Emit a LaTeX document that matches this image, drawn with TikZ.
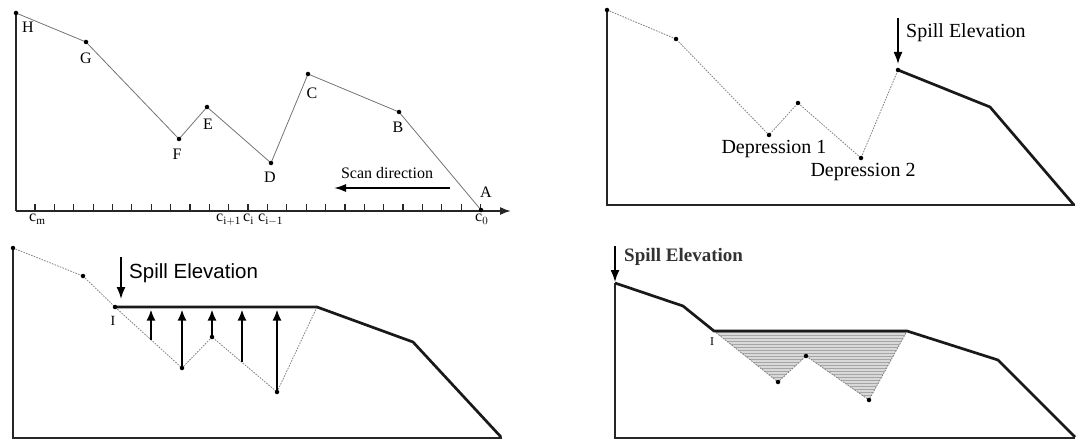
\documentclass[tikz,border=0pt]{standalone}
\usepackage{fontspec}
\setmainfont{Liberation Serif}
\newfontfamily\sansf{Liberation Sans}
\usetikzlibrary{arrows.meta,patterns,calc}
\begin{document}
\begin{tikzpicture}[x=1pt,y=-1pt,
  axis/.style={line width=1.7pt, black!85},
  thinprof/.style={line width=0.8pt, black!55},
  dotprof/.style={line width=0.8pt, black!50, dash pattern=on 1.6pt off 1.2pt},
  thickprof/.style={line width=2.7pt, black!90, line join=round},
  dotpt/.style={circle, fill=black, inner sep=0pt, minimum size=4.5pt},
  lbl/.style={inner sep=0pt, font=\fontsize{16}{16}\selectfont},
  biglbl/.style={inner sep=0pt, font=\fontsize{20}{20}\selectfont},
  spill/.style={line width=1.6pt, -{Latex[length=12pt,width=9pt]}},
  uparr/.style={line width=2pt, -{Latex[length=11pt,width=9pt]}},
]
\useasboundingbox (0,0) rectangle (1076,441);

% ---------------- Panel 1 ----------------
\coordinate (Y1) at (16,11);
\coordinate (O1) at (16,211);
\coordinate (X1) at (511,211);
\draw[axis] (Y1) -- (O1);
\draw[axis,-{Latex[length=11pt,width=8pt]}] (O1) -- (X1);
\foreach \i in {0,...,23}{
  \draw[line width=1.2pt, black!85] ({35+\i*19.37},211) -- ({35+\i*19.37},203.5);
}
\coordinate (H) at (16,13);
\coordinate (G) at (86,42);
\coordinate (F) at (179,139);
\coordinate (E) at (207,107);
\coordinate (D) at (271,163);
\coordinate (C) at (308,74);
\coordinate (B) at (399,112);
\coordinate (A) at (481,210);
\draw[thinprof] (H) -- (G) -- (F) -- (E) -- (D) -- (C) -- (B) -- (A);
\foreach \p in {H,G,F,E,D,C,B,A} \node[dotpt] at (\p) {};
\node[lbl] (lH) at (28,27) {H};
\node[lbl] (lG) at (86,58) {G};
\node[lbl] (lF) at (177,154) {F};
\node[lbl] (lE) at (208,124) {E};
\node[lbl] (lD) at (270,177) {D};
\node[lbl] (lC) at (312,93) {C};
\node[lbl] (lB) at (398,127) {B};
\node[lbl] (lA) at (486,192) {A};
\node[lbl] (scan) at (387,173) {Scan direction};
\coordinate (sa) at (450,188);
\coordinate (sb) at (334,188);
\draw[line width=1.7pt, -{Latex[length=12pt,width=8pt]}] (sa) -- (sb);
\node[lbl, anchor=north west] (cm) at (29,214) {c$_{\mathrm{m}}$};
\node[lbl, anchor=north west] (cip) at (216,214) {c$_{\mathrm{i+1}}$};
\node[lbl, anchor=north west] (ci) at (243,214) {c$_{\mathrm{i}}$};
\node[lbl, anchor=north west] (cim) at (258,214) {c$_{\mathrm{i-1}}$};
\node[lbl, anchor=north west] (c0) at (475,214) {c$_{0}$};

% ---------------- Panel 2 ----------------
\coordinate (Y2) at (607,10);
\coordinate (O2) at (607,205);
\coordinate (X2) at (1075,205);
\draw[axis] (Y2) -- (O2) -- (X2);
\coordinate (Q1) at (607,10);
\coordinate (Q2) at (676,39);
\coordinate (Q3) at (769,135);
\coordinate (Q4) at (798,103);
\coordinate (Q5) at (861,158);
\coordinate (Q6) at (898,70);
\coordinate (Q7) at (990,107);
\coordinate (Q8) at (1074,205);
\draw[dotprof] (Q1) -- (Q2) -- (Q3) -- (Q4) -- (Q5) -- (Q6);
\draw[thickprof] (Q6) -- (Q7) -- (Q8);
\foreach \p in {Q1,Q2,Q3,Q4,Q5,Q6} \node[dotpt] at (\p) {};
\coordinate (sp2a) at (898,18);
\coordinate (sp2b) at (898,64);
\draw[spill] (sp2a) -- (sp2b);
\node[biglbl, anchor=west] (sp2) at (906,33) {Spill Elevation};
\node[biglbl] (dep1) at (774,149) {Depression 1};
\node[biglbl] (dep2) at (863,172) {Depression 2};

% ---------------- Panel 3 ----------------
\coordinate (Y3) at (13,248);
\coordinate (O3) at (13,438);
\coordinate (X3) at (502,438);
\draw[axis] (Y3) -- (O3) -- (X3);
\coordinate (R1) at (13,248);
\coordinate (R2) at (83,276);
\coordinate (I3) at (115,307);
\coordinate (R4) at (182,368);
\coordinate (R5) at (212,337);
\coordinate (R6) at (277,392);
\coordinate (R7) at (317,307);
\coordinate (R8) at (413,342);
\coordinate (R9) at (501,437);
\draw[dotprof] (R1) -- (R2) -- (I3) -- (R4) -- (R5) -- (R6) -- (R7);
\draw[thickprof] (I3) -- (R7) -- (R8) -- (R9);
\foreach \p in {R1,R2,I3,R4,R5,R6} \node[dotpt] at (\p) {};
\coordinate (u1) at (151,340);
\coordinate (u2) at (182,368);
\coordinate (u3) at (212,337);
\coordinate (u4) at (242,362);
\coordinate (u5) at (277,392);
\foreach \u in {u1,u2,u3,u4,u5}{
  \draw[uparr] (\u) -- (\u |- 0,309.5);
}
\coordinate (sp3a) at (121,257);
\coordinate (sp3b) at (121,299);
\draw[spill] (sp3a) -- (sp3b);
\node[inner sep=0pt, anchor=west, font=\sansf\fontsize{20.5}{20.5}\selectfont] (sp3) at (129,273) {Spill Elevation};
\node[inner sep=0pt, font=\fontsize{14}{14}\selectfont] (lI3) at (113,321) {I};

% ---------------- Panel 4 ----------------
\coordinate (Y4) at (615,283);
\coordinate (O4) at (615,438);
\coordinate (X4) at (1075,438);
\draw[axis] (Y4) -- (O4) -- (X4);
\coordinate (S1) at (615,283);
\coordinate (S2) at (683,306);
\coordinate (I4) at (714,331);
\coordinate (S4) at (778,382);
\coordinate (S5) at (806,356);
\coordinate (S6) at (869,400);
\coordinate (S7) at (907,331);
\coordinate (S8) at (998,360);
\coordinate (S9) at (1075,437);
\fill[black!15] (I4) -- (S4) -- (S5) -- (S6) -- (S7) -- cycle;
\fill[pattern=horizontal lines, pattern color=black!35] (I4) -- (S4) -- (S5) -- (S6) -- (S7) -- cycle;
\draw[dotprof] (I4) -- (S4) -- (S5) -- (S6) -- (S7);
\draw[thickprof] (S1) -- (S2) -- (I4) -- (S7) -- (S8) -- (S9);
\foreach \p in {S4,S5,S6} \node[dotpt] at (\p) {};
\coordinate (sp4a) at (615,246);
\coordinate (sp4b) at (615,282);
\draw[spill] (sp4a) -- (sp4b);
\node[inner sep=0pt, anchor=west, font=\bfseries\fontsize{19}{19}\selectfont, text=black!80] (sp4) at (624,257) {Spill Elevation};
\node[inner sep=0pt, font=\fontsize{12}{12}\selectfont] (lI4) at (712,342) {I};
\end{tikzpicture}
\end{document}
